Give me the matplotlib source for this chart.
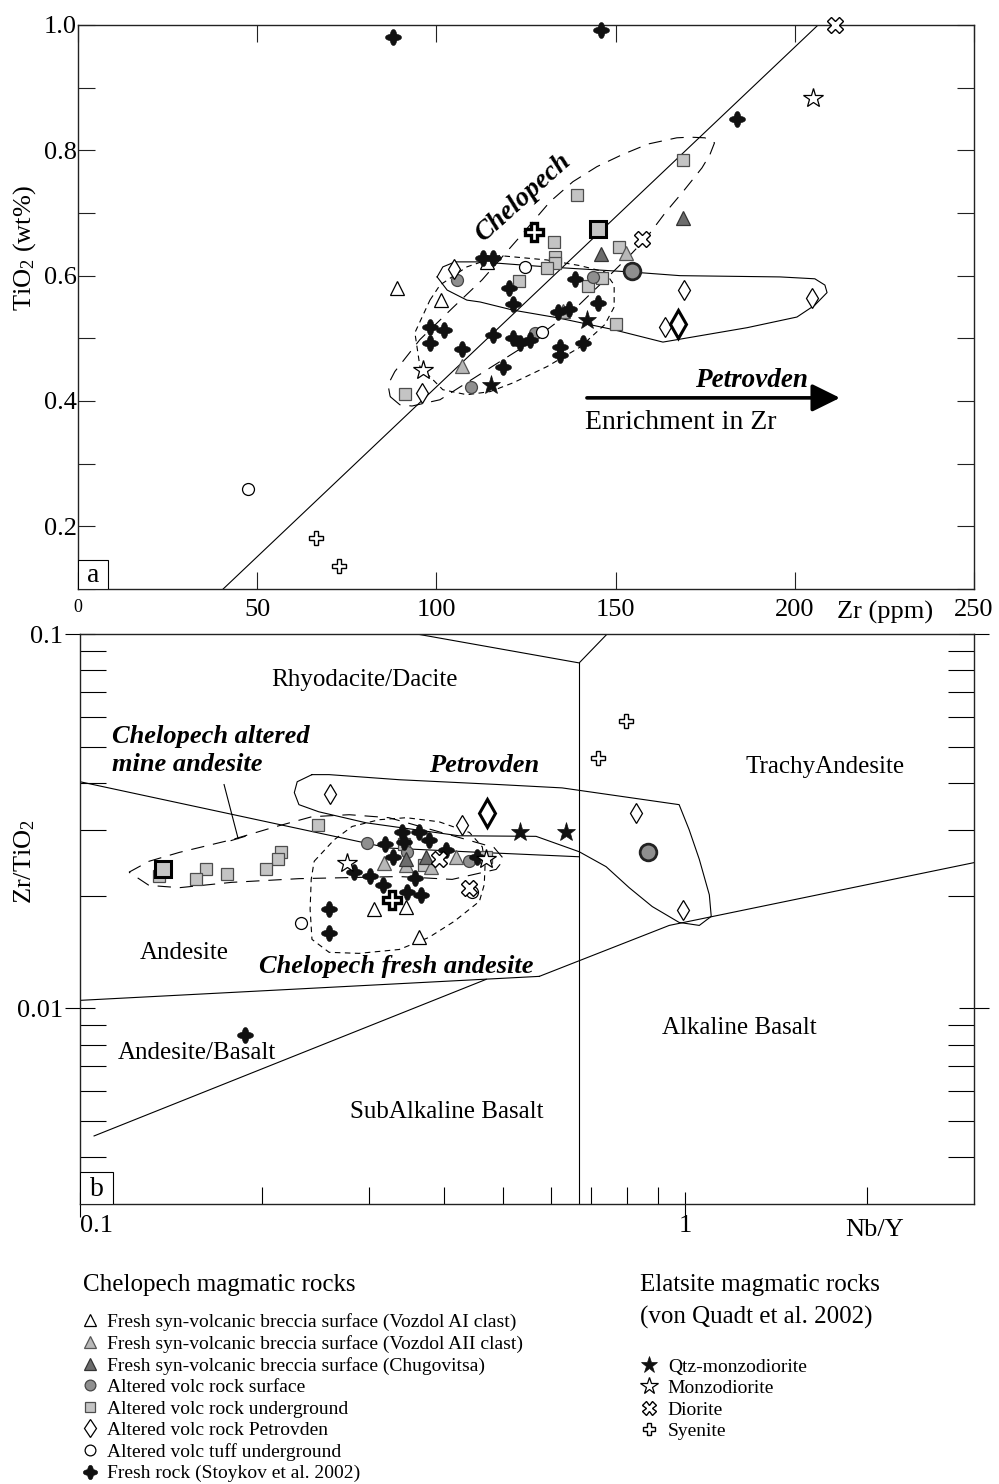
import numpy as np
import matplotlib
matplotlib.use("Agg")
import matplotlib.pyplot as plt
from matplotlib.path import Path
from matplotlib.lines import Line2D
from matplotlib.patches import Rectangle
from matplotlib.ticker import FixedLocator, NullFormatter

plt.rcParams['font.family'] = ['Liberation Serif', 'DejaVu Serif']
plt.rcParams['mathtext.fontset'] = 'custom'
plt.rcParams['mathtext.rm'] = 'Liberation Serif'
plt.rcParams['mathtext.it'] = 'Liberation Serif:italic'
plt.rcParams['mathtext.bf'] = 'Liberation Serif:bold'

# ================= Panel a : Zr (ppm) vs TiO2 (wt%) =================
a_fresh_zr = [87.9, 145.9, 183.9, 113.0, 115.8, 138.7, 120.3, 121.4, 145.1, 133.9, 137.0, 98.2,
              102.1, 98.2, 107.1, 115.8, 121.4, 123.3, 126.1, 134.5, 134.5, 140.9, 118.6]
a_fresh_ti = [0.981, 0.992, 0.850, 0.628, 0.628, 0.595, 0.581, 0.554, 0.557, 0.542, 0.547, 0.518,
              0.514, 0.493, 0.483, 0.506, 0.501, 0.493, 0.498, 0.486, 0.474, 0.493, 0.455]
a_sq_zr = [168.8, 139.2, 132.8, 133.1, 133.1, 151.0, 130.9, 123.0, 146.2, 142.3, 150.1, 91.2]
a_sq_ti = [0.785, 0.729, 0.654, 0.630, 0.620, 0.646, 0.612, 0.592, 0.596, 0.584, 0.523, 0.411]
a_trl_zr = [152.9, 135.3, 107.1]
a_trl_ti = [0.636, 0.543, 0.456]
a_trd_zr = [168.8, 145.9]
a_trd_ti = [0.692, 0.635]
a_tro_zr = [89.0, 101.3, 114.1]
a_tro_ti = [0.580, 0.561, 0.622]
a_cg_zr = [105.8, 143.7, 109.7, 127.5]
a_cg_ti = [0.593, 0.598, 0.423, 0.509]
a_co_zr = [124.7, 129.5, 47.4]
a_co_ti = [0.614, 0.510, 0.260]
a_di_zr = [104.9, 169.1, 204.8, 163.8, 95.9]
a_di_ti = [0.611, 0.577, 0.565, 0.518, 0.413]
a_stb_zr = [115.2, 141.9]
a_stb_ti = [0.426, 0.530]
a_sto_zr = [205.2, 96.4]
a_sto_ti = [0.883, 0.450]
a_dio_zr = [211.2, 157.4]
a_dio_ti = [1.0, 0.659]
a_sye_zr = [66.4, 72.8]
a_sye_ti = [0.182, 0.137]
a_avg_sq = (145.1, 0.675)
a_avg_circ = (154.6, 0.608)
a_avg_dia = (167.4, 0.523)
a_avg_sye = (127.2, 0.670)

a_trend_zr = [40.5, 206.5]
a_trend_ti = [0.1, 1.0]
a_long_zr = [87.1, 89.8, 93.2, 101.0, 115.0, 126.1, 139.2, 148.4, 154.6, 158.8, 163.8, 168.8, 174.1,
             176.3, 177.6, 174.9, 170.8, 167.1, 159.0, 151.8, 144.8, 138.1, 131.7, 124.2, 112.7,
             104.6, 95.4, 88.4, 86.5, 87.1]
a_long_ti = [0.407, 0.394, 0.392, 0.402, 0.453, 0.493, 0.550, 0.601, 0.636, 0.662, 0.700, 0.734, 0.772,
             0.793, 0.812, 0.820, 0.821, 0.820, 0.810, 0.793, 0.774, 0.750, 0.718, 0.668, 0.593,
             0.549, 0.498, 0.447, 0.426, 0.407]
a_short_zr = [98.2, 101.0, 108.5, 117.7, 130.9, 140.1, 147.0, 149.6, 149.6, 147.0, 140.1, 130.9,
              121.4, 115.0, 108.5, 101.8, 95.4, 94.0, 98.2]
a_short_ti = [0.561, 0.585, 0.614, 0.632, 0.625, 0.616, 0.606, 0.585, 0.550, 0.522, 0.486, 0.455,
              0.429, 0.415, 0.410, 0.418, 0.455, 0.509, 0.561]
a_petr_zr = [100.2, 101.8, 105.2, 112.2, 130.9, 154.0, 168.0, 195.9, 205.6, 208.4, 209.0, 205.6,
             200.6, 186.7, 163.2, 149.3, 133.6, 121.4, 112.2, 108.5, 103.0, 100.2]
a_petr_ti = [0.598, 0.614, 0.622, 0.622, 0.614, 0.606, 0.600, 0.598, 0.595, 0.585, 0.573, 0.553,
             0.534, 0.517, 0.494, 0.514, 0.533, 0.545, 0.558, 0.561, 0.577, 0.598]
a_arrow_zr = [142.0, 212.6]
a_arrow_ti = 0.405

# ================= Panel b : Nb/Y vs Zr/TiO2 =================
b_fresh_nby = [0.341, 0.363, 0.377, 0.319, 0.343, 0.329, 0.403, 0.453, 0.284, 0.301, 0.358, 0.317,
               0.347, 0.366, 0.258, 0.258, 0.187]
b_fresh_zt = [0.0295, 0.0296, 0.0282, 0.0275, 0.0279, 0.0254, 0.0265, 0.0254, 0.0231, 0.0226, 0.0223,
              0.0213, 0.0204, 0.0201, 0.0184, 0.0159, 0.00847]
b_sq_nby = [0.247, 0.215, 0.2125, 0.203, 0.175, 0.1616, 0.1555, 0.135, 0.343, 0.370, 0.469]
b_sq_zt = [0.0308, 0.0262, 0.0250, 0.0235, 0.0228, 0.0235, 0.0221, 0.0226, 0.0274, 0.0242, 0.0254]
b_trl_nby = [0.318, 0.346, 0.380, 0.418]
b_trl_zt = [0.0245, 0.0241, 0.0238, 0.0254]
b_trd_nby = [0.346, 0.373]
b_trd_zt = [0.0250, 0.0253]
b_tro_nby = [0.306, 0.346, 0.363]
b_tro_zt = [0.0184, 0.0186, 0.0155]
b_cg_nby = [0.298, 0.347, 0.440]
b_cg_zt = [0.0277, 0.0262, 0.0247]
b_co_nby = [0.232, 0.445]
b_co_zt = [0.01686, 0.0205]
b_di_nby = [0.259, 0.428, 0.830, 0.992]
b_di_zt = [0.0374, 0.0308, 0.0333, 0.0183]
b_stb_nby = [0.533, 0.636]
b_stb_zt = [0.0295, 0.0296]
b_sto_nby = [0.276, 0.469]
b_sto_zt = [0.0244, 0.0251]
b_dio_nby = [0.392, 0.440]
b_dio_zt = [0.0251, 0.0209]
b_sye_nby = [0.799, 0.718]
b_sye_zt = [0.0586, 0.0467]
b_avg_sq = (0.137, 0.0235)
b_avg_circ = (0.869, 0.0262)
b_avg_dia = (0.471, 0.0333)
b_avg_sye = (0.328, 0.0195)

# classification field boundaries (Winchester & Floyd)
bnd_top_x, bnd_top_y = [0.36, 0.668, 0.743], [0.1, 0.0837, 0.1]
bnd_vert_x, bnd_vert_y = [0.668, 0.668], [0.0837, 0.003]
bnd_rd_x, bnd_rd_y = [0.1, 0.324, 0.457, 0.668], [0.0403, 0.0268, 0.0261, 0.0254]
bnd_ab_x, bnd_ab_y = [0.1, 0.574], [0.0105, 0.01217]
bnd_sab_x, bnd_sab_y = [0.1055, 0.469], [0.00456, 0.01195]
bnd_alk_x, bnd_alk_y = [0.574, 0.941, 3.0], [0.01217, 0.01665, 0.0245]

b_petr_nby = [0.2417, 0.2285, 0.226, 0.230, 0.248, 0.297, 0.423, 0.567, 0.668, 0.740, 0.808, 0.882,
              0.977, 1.055, 1.104, 1.096, 1.055, 1.015, 0.977, 0.626, 0.493, 0.337, 0.258, 0.2417]
b_petr_zt = [0.0421, 0.0403, 0.0377, 0.0350, 0.0335, 0.0313, 0.0289, 0.0288, 0.0262, 0.0239, 0.0210,
             0.0187, 0.01696, 0.01665, 0.0176, 0.0201, 0.0250, 0.0300, 0.0350, 0.0388, 0.0396,
             0.0408, 0.0421, 0.0421]
b_long_nby = [0.1205, 0.130, 0.146, 0.178, 0.211, 0.2417, 0.2785, 0.324, 0.4074, 0.483, 0.502, 0.487,
              0.412, 0.337, 0.230, 0.178, 0.146, 0.130, 0.1205]
b_long_zt = [0.0231, 0.0247, 0.0261, 0.0282, 0.0306, 0.0325, 0.0329, 0.0323, 0.0291, 0.0269, 0.0250,
             0.0235, 0.0221, 0.02249, 0.0222, 0.0217, 0.0210, 0.0213, 0.0231]
b_short_nby = [0.2437, 0.263, 0.2815, 0.312, 0.346, 0.392, 0.440, 0.462, 0.467, 0.4655, 0.457, 0.415,
               0.377, 0.337, 0.289, 0.258, 0.2417, 0.240, 0.241, 0.2437]
b_short_zt = [0.0247, 0.0282, 0.0306, 0.0319, 0.0323, 0.0315, 0.0295, 0.0270, 0.0242, 0.0214, 0.0193,
              0.01706, 0.01546, 0.01436, 0.01402, 0.01411, 0.01528, 0.0184, 0.0221, 0.0247]
b_leader_nby, b_leader_zt = [0.173, 0.1825], [0.0396, 0.0284]
b_cap_nby, b_cap_zt = [0.1777, 0.1874], [0.02806, 0.0288]

# ================= marker styles =================
th = np.linspace(0, 2 * np.pi, 160)
rr = 0.80 + 0.20 * np.cos(4 * th)
CLOVER = Path(np.column_stack([rr * np.cos(th), rr * np.sin(th)]))


def st(marker, fc, ec, ms, mew):
    return dict(marker=marker, markerfacecolor=fc, markeredgecolor=ec, markersize=ms,
                markeredgewidth=mew, linestyle='none')


STY = {
    'tri_open': st('^', 'white', 'black', 9.5, 0.9),
    'tri_light': st('^', '#b8b8b8', '#555555', 9.5, 0.9),
    'tri_dark': st('^', '#6c6c6c', '#333333', 9.5, 0.9),
    'circ_gray': st('o', '#8f8f8f', '#444444', 8.6, 0.9),
    'square': st('s', '#c4c4c4', '#4d4d4d', 8.6, 0.9),
    'diamond': st('d', 'white', 'black', 10.5, 0.9),
    'circ_open': st('o', 'white', 'black', 8.6, 0.9),
    'clover': st(CLOVER, '#111111', '#111111', 11.5, 0.4),
    'star_black': st('*', '#111111', '#111111', 14, 0.5),
    'star_open': st('*', 'white', 'black', 14.5, 0.9),
    'diorite': st('X', 'white', 'black', 11, 1.0),
    'syenite': st('P', 'white', 'black', 9.5, 1.0),
    'sq_avg': st('s', '#c4c4c4', 'black', 11, 2.2),
    'circ_avg': st('o', '#8f8f8f', '#222222', 12, 2.0),
    'dia_avg': st('d', 'white', 'black', 14, 2.2),
    'sye_avg': st('P', 'white', 'black', 13, 2.4),
}

W, H = 999, 1484
fig = plt.figure(figsize=(W / 100, H / 100), dpi=100)

LW = 0.8
LONG = (0, (12, 8))
SHORT = (0, (5, 4))
FS = 19

# ---------------- panel a ----------------
axa = fig.add_axes([78 / W, 1 - 589 / H, 896 / W, 564 / H])
axa.set_xlim(0, 250)
axa.set_ylim(0.1, 1.0)
axa.plot(a_trend_zr, a_trend_ti, color='black', lw=LW, zorder=2)
axa.plot(a_long_zr, a_long_ti, color='black', lw=LW, ls=LONG, zorder=2)
axa.plot(a_short_zr, a_short_ti, color='black', lw=LW, ls=SHORT, zorder=2)
axa.plot(a_petr_zr, a_petr_ti, color='black', lw=LW, zorder=2)

series_a = [
    (a_sq_zr, a_sq_ti, 'square'), (a_cg_zr, a_cg_ti, 'circ_gray'), (a_trl_zr, a_trl_ti, 'tri_light'),
    (a_trd_zr, a_trd_ti, 'tri_dark'), (a_tro_zr, a_tro_ti, 'tri_open'), (a_di_zr, a_di_ti, 'diamond'),
    (a_co_zr, a_co_ti, 'circ_open'), (a_fresh_zr, a_fresh_ti, 'clover'),
    (a_stb_zr, a_stb_ti, 'star_black'), (a_sto_zr, a_sto_ti, 'star_open'),
    (a_dio_zr, a_dio_ti, 'diorite'), (a_sye_zr, a_sye_ti, 'syenite'),
    ([a_avg_sq[0]], [a_avg_sq[1]], 'sq_avg'), ([a_avg_circ[0]], [a_avg_circ[1]], 'circ_avg'),
    ([a_avg_dia[0]], [a_avg_dia[1]], 'dia_avg'), ([a_avg_sye[0]], [a_avg_sye[1]], 'sye_avg'),
]
for xs, ys, key in series_a:
    axa.plot(xs, ys, clip_on=False, zorder=4, **STY[key])

axa.set_xticks([0, 50, 100, 150, 200, 250])
axa.set_xticklabels(['0', '50', '100', '150', '200', '250'])
yt = [0.1, 0.2, 0.3, 0.4, 0.5, 0.6, 0.7, 0.8, 0.9, 1.0]
axa.set_yticks(yt)
axa.set_yticklabels(['', '0.2', '', '0.4', '', '0.6', '', '0.8', '', '1.0'])
axa.tick_params(axis='both', direction='in', length=12, width=0.8, top=True, right=True,
                labelsize=FS, color='#222222')
axa.tick_params(axis='x', pad=7)
axa.tick_params(axis='y', pad=1)
axa.xaxis.get_ticklabels()[0].set_fontsize(13)
for sp in axa.spines.values():
    sp.set_linewidth(1.0)
    sp.set_color('#222222')

axa.add_patch(Rectangle((0, 0), 30 / 896, 29 / 564, transform=axa.transAxes, fc='white',
                        ec='black', lw=0.8, zorder=5))
axa.text(15 / 896, 13 / 564, 'a', transform=axa.transAxes, ha='center', va='center',
         fontsize=20, zorder=6)
axa.text(0.4967, 0.693, 'Chelopech', transform=axa.transAxes, rotation=42, ha='center',
         va='center', fontsize=19.5, fontweight='bold', style='italic', zorder=6)
axa.text(0.8147, 0.370, 'Petrovden', transform=axa.transAxes, ha='right', va='center',
         fontsize=19.5, fontweight='bold', style='italic')
axa.text(0.566, 0.296, 'Enrichment in Zr', transform=axa.transAxes, ha='left', va='center',
         fontsize=20)
axa.annotate('', xy=(a_arrow_zr[1], a_arrow_ti), xytext=(a_arrow_zr[0], a_arrow_ti),
             arrowprops=dict(arrowstyle='-|>,head_length=0.85,head_width=0.42', lw=2.6,
                             color='black', mutation_scale=20, shrinkA=0, shrinkB=0))
axa.text(0.9007, -0.041, 'Zr (ppm)', transform=axa.transAxes, ha='center', va='center',
         fontsize=FS)
fig.text(25 / W, 1 - 248 / H, 'TiO$_2$ (wt%)', rotation=90, ha='center', va='center',
         fontsize=FS)

# ---------------- panel b ----------------
axb = fig.add_axes([80 / W, 1 - 1204 / H, 894 / W, 570 / H])
axb.set_xscale('log')
axb.set_yscale('log')
axb.set_xlim(0.1, 3.0)
axb.set_ylim(0.003, 0.1)

for xs, ys in [(bnd_top_x, bnd_top_y), (bnd_vert_x, bnd_vert_y), (bnd_rd_x, bnd_rd_y),
               (bnd_ab_x, bnd_ab_y), (bnd_sab_x, bnd_sab_y), (bnd_alk_x, bnd_alk_y)]:
    axb.plot(xs, ys, color='black', lw=LW, zorder=2)
axb.plot(b_petr_nby, b_petr_zt, color='black', lw=LW, zorder=2)
axb.plot(b_long_nby, b_long_zt, color='black', lw=LW, ls=LONG, zorder=2)
axb.plot(b_short_nby, b_short_zt, color='black', lw=LW, ls=SHORT, zorder=2)
axb.plot(b_leader_nby, b_leader_zt, color='black', lw=LW, zorder=2)
axb.plot(b_cap_nby, b_cap_zt, color='black', lw=LW, zorder=2)

series_b = [
    (b_sq_nby, b_sq_zt, 'square'), (b_cg_nby, b_cg_zt, 'circ_gray'), (b_trl_nby, b_trl_zt, 'tri_light'),
    (b_trd_nby, b_trd_zt, 'tri_dark'), (b_tro_nby, b_tro_zt, 'tri_open'), (b_di_nby, b_di_zt, 'diamond'),
    (b_co_nby, b_co_zt, 'circ_open'), (b_fresh_nby, b_fresh_zt, 'clover'),
    (b_stb_nby, b_stb_zt, 'star_black'), (b_sto_nby, b_sto_zt, 'star_open'),
    (b_dio_nby, b_dio_zt, 'diorite'), (b_sye_nby, b_sye_zt, 'syenite'),
    ([b_avg_sq[0]], [b_avg_sq[1]], 'sq_avg'), ([b_avg_circ[0]], [b_avg_circ[1]], 'circ_avg'),
    ([b_avg_dia[0]], [b_avg_dia[1]], 'dia_avg'), ([b_avg_sye[0]], [b_avg_sye[1]], 'sye_avg'),
]
for xs, ys, key in series_b:
    axb.plot(xs, ys, zorder=4, **STY[key])

axb.xaxis.set_major_locator(FixedLocator([0.1, 1.0]))
axb.xaxis.set_minor_locator(FixedLocator([0.2, 0.3, 0.4, 0.5, 0.6, 0.7, 0.8, 0.9, 2.0]))
axb.set_xticklabels(['0.1', '1'])
axb.xaxis.set_minor_formatter(NullFormatter())
axb.yaxis.set_major_locator(FixedLocator([0.01, 0.1]))
axb.yaxis.set_minor_locator(FixedLocator([0.004, 0.005, 0.006, 0.007, 0.008, 0.009,
                                          0.02, 0.03, 0.04, 0.05, 0.06, 0.07, 0.08, 0.09]))
axb.set_yticklabels(['0.01', '0.1'])
axb.yaxis.set_minor_formatter(NullFormatter())
axb.tick_params(axis='x', which='major', direction='inout', length=18, width=0.8, pad=-1,
                labelsize=FS, top=False)
axb.tick_params(axis='x', which='minor', direction='in', length=12, width=0.8, top=False)
axb.tick_params(axis='y', which='major', direction='inout', length=22, width=0.8, pad=1,
                labelsize=FS, right=True)
axb.tick_params(axis='y', which='minor', direction='in', length=19, width=0.8, right=True,
                left=True)
axb.xaxis.get_ticklabels()[0].set_horizontalalignment('left')
for sp in axb.spines.values():
    sp.set_linewidth(1.0)
    sp.set_color('#222222')

axb.add_patch(Rectangle((0, 0), 33 / 894, 32 / 570, transform=axb.transAxes, fc='white',
                        ec='black', lw=0.8, zorder=5))
axb.text(16.5 / 894, 14 / 570, 'b', transform=axb.transAxes, ha='center', va='center',
         fontsize=20, zorder=6)

fields = [
    (0.318, 0.919, 'Rhyodacite/Dacite'), (0.833, 0.767, 'TrachyAndesite'),
    (0.117, 0.440, 'Andesite'), (0.131, 0.265, 'Andesite/Basalt'),
    (0.4105, 0.161, 'SubAlkaline Basalt'), (0.738, 0.309, 'Alkaline Basalt'),
]
for fx, fy, t in fields:
    axb.text(fx, fy, t, transform=axb.transAxes, ha='center', va='center', fontsize=18)
axb.text(0.0358, 0.796, 'Chelopech altered\nmine andesite', transform=axb.transAxes, ha='left',
         va='center', fontsize=19, fontweight='bold', style='italic', linespacing=1.25)
axb.text(0.4525, 0.770, 'Petrovden', transform=axb.transAxes, ha='center', va='center',
         fontsize=19, fontweight='bold', style='italic')
axb.text(0.354, 0.416, 'Chelopech fresh andesite', transform=axb.transAxes, ha='center',
         va='center', fontsize=19, fontweight='bold', style='italic')
axb.text(0.889, -0.046, 'Nb/Y', transform=axb.transAxes, ha='center', va='center', fontsize=FS)
fig.text(25 / W, 1 - 861 / H, 'Zr/TiO$_2$', rotation=90, ha='center', va='center', fontsize=FS)

# ---------------- legends ----------------
fig.text(83 / W, 1 - 1285 / H, 'Chelopech magmatic rocks', ha='left', va='center', fontsize=18)
fig.text(640 / W, 1 - 1285 / H, 'Elatsite magmatic rocks', ha='left', va='center', fontsize=18)
fig.text(640 / W, 1 - 1317 / H, '(von Quadt et al. 2002)', ha='left', va='center', fontsize=18)

left_keys = ['tri_open', 'tri_light', 'tri_dark', 'circ_gray', 'square', 'diamond', 'circ_open', 'clover']
left_labels = ['Fresh syn-volcanic breccia surface (Vozdol AI clast)',
               'Fresh syn-volcanic breccia surface (Vozdol AII clast)',
               'Fresh syn-volcanic breccia surface (Chugovitsa)',
               'Altered volc rock surface', 'Altered volc rock underground',
               'Altered volc rock Petrovden', 'Altered volc tuff underground',
               'Fresh rock (Stoykov et al. 2002)']
right_keys = ['star_black', 'star_open', 'diorite', 'syenite']
right_labels = ['Qtz-monzodiorite', 'Monzodiorite', 'Diorite', 'Syenite']


def handles(keys):
    out = []
    for k in keys:
        s = dict(STY[k])
        s['markersize'] = s['markersize'] * 0.9
        out.append(Line2D([], [], **s))
    return out


LEG_FS = 14
leg1 = fig.legend(handles(left_keys), left_labels, loc='upper left',
                  bbox_to_anchor=(80 / W, 1 - 1313 / H), frameon=False, fontsize=LEG_FS,
                  handlelength=1.0, handletextpad=0.38, labelspacing=0.2, borderpad=0,
                  borderaxespad=0, numpoints=1)
leg2 = fig.legend(handles(right_keys), right_labels, loc='upper left',
                  bbox_to_anchor=(639 / W, 1 - 1358 / H), frameon=False, fontsize=LEG_FS,
                  handlelength=1.0, handletextpad=0.48, labelspacing=0.2, borderpad=0,
                  borderaxespad=0, numpoints=1)

fig.savefig('out.png', dpi=100)
